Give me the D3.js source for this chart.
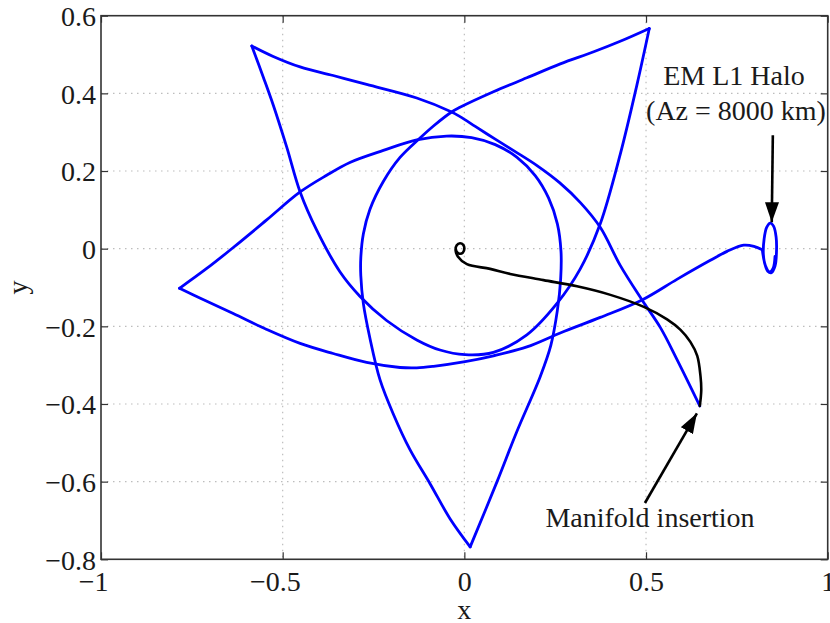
<!DOCTYPE html>
<html>
<head>
<meta charset="utf-8">
<script src="https://cdn.jsdelivr.net/npm/d3@7"></script>
<style>
  html, body { margin: 0; padding: 0; background: #fff; }
  svg { display: block; }
  text { font-family: "Liberation Serif", "Times New Roman", "DejaVu Serif", serif; fill: #1a1a1a; }
</style>
</head>
<body>
<svg id="chart" width="830" height="623"></svg>
<script>
// ---------- data ----------
const xTicks = [-1, -0.5, 0, 0.5, 1];
const yTicks = [-0.8, -0.6, -0.4, -0.2, 0, 0.2, 0.4, 0.6];
const xLabel = "x";
const yLabel = "y";

// blue transfer trajectory, split at cusps (insertion -> UL -> UR -> B -> L -> halo)
const segInsertToUL = [[0.648,-0.405],[0.585,-0.285],[0.540,-0.204],[0.489,-0.132],[0.429,-0.043],[0.374,0.055],[0.320,0.118],[0.262,0.170],[0.200,0.214],[0.140,0.250],[0.085,0.282],[0.030,0.315],[-0.012,0.340],[-0.035,0.352],[-0.131,0.388],[-0.269,0.423],[-0.361,0.446],[-0.452,0.468],[-0.526,0.495],[-0.585,0.522]];
const segULToUR = [[-0.585,0.522],[-0.553,0.441],[-0.526,0.370],[-0.489,0.262],[-0.452,0.146],[-0.406,0.047],[-0.342,-0.060],[-0.287,-0.123],[-0.214,-0.185],[-0.131,-0.235],[-0.067,-0.261],[0.002,-0.273],[0.080,-0.267],[0.172,-0.222],[0.255,-0.141],[0.319,-0.052],[0.374,0.064],[0.429,0.243],[0.475,0.422],[0.509,0.567]];
const segURToB = [[0.509,0.567],[0.429,0.534],[0.356,0.507],[0.264,0.476],[0.172,0.440],[0.080,0.404],[-0.012,0.364],[-0.035,0.352],[-0.085,0.316],[-0.122,0.285],[-0.177,0.235],[-0.223,0.173],[-0.260,0.101],[-0.278,0.038],[-0.285,-0.024],[-0.285,-0.069],[-0.278,-0.141],[-0.260,-0.230],[-0.232,-0.338],[-0.195,-0.427],[-0.150,-0.517],[-0.094,-0.606],[-0.039,-0.696],[0.016,-0.768]];
const segBToL = [[0.016,-0.768],[0.090,-0.600],[0.144,-0.472],[0.209,-0.329],[0.238,-0.249],[0.256,-0.159],[0.265,-0.079],[0.266,-0.007],[0.256,0.064],[0.232,0.130],[0.195,0.188],[0.145,0.235],[0.085,0.268],[0.020,0.286],[-0.049,0.290],[-0.131,0.280],[-0.223,0.253],[-0.315,0.222],[-0.379,0.189],[-0.452,0.146],[-0.544,0.074],[-0.636,0.003],[-0.709,-0.051],[-0.784,-0.102]];
const segLToHalo = [[-0.784,-0.102],[-0.728,-0.127],[-0.636,-0.167],[-0.544,-0.208],[-0.452,-0.244],[-0.361,-0.270],[-0.269,-0.293],[-0.177,-0.306],[-0.131,-0.307],[-0.085,-0.303],[0.002,-0.291],[0.080,-0.276],[0.172,-0.253],[0.264,-0.217],[0.374,-0.177],[0.489,-0.132],[0.585,-0.079],[0.677,-0.030],[0.723,-0.007],[0.769,0.009],[0.797,0.006],[0.820,-0.003]];
const haloOrbit = [[0.820,-0.003],[0.826,-0.035],[0.835,-0.058],[0.845,-0.062],[0.855,-0.045],[0.859,-0.010],[0.858,0.030],[0.851,0.058],[0.842,0.066],[0.832,0.055],[0.825,0.025],[0.823,-0.015],[0.829,-0.045],[0.840,-0.060],[0.850,-0.050],[0.855,-0.020]];

// black manifold arc from insertion point to Earth
const manifoldArc = [[0.648,-0.405],[0.652,-0.365],[0.650,-0.329],[0.641,-0.276],[0.622,-0.240],[0.595,-0.209],[0.558,-0.182],[0.494,-0.150],[0.402,-0.119],[0.310,-0.097],[0.218,-0.081],[0.126,-0.065],[0.071,-0.052],[0.007,-0.040],[-0.018,-0.020],[-0.024,-0.005],[-0.021,0.009],[-0.012,0.014],[-0.003,0.010],[0.000,0.000],[-0.004,-0.010],[-0.013,-0.013],[-0.021,-0.008],[-0.024,0.002]];

// annotations: [tailX, tailY, tipX, tipY]
const haloArrow = [0.849, 0.292, 0.846, 0.068];
const insertionArrow = [0.497, -0.655, 0.640, -0.424];
const haloText = ["EM L1 Halo", "(Az = 8000 km)"];
const insertionText = "Manifold insertion";

// ---------- chart ----------
const svg = d3.select("#chart");
const L = 101, R = 827.7, T = 15.7, B = 559.3;
const x = d3.scaleLinear().domain([-1, 1]).range([L, R]);
const y = d3.scaleLinear().domain([-0.8, 0.6]).range([B, T]);
const fmt = d3.format("");
const FS = 28;
const FONT = '"Liberation Serif", "Times New Roman", serif';

// grid
const grid = svg.append("g");
grid.selectAll(".gx").data(xTicks.slice(1, -1)).join("line")
  .attr("x1", d => x(d)).attr("x2", d => x(d)).attr("y1", T).attr("y2", B)
  .attr("stroke", "#bdbdbd").attr("stroke-width", 1.2).attr("stroke-dasharray", "1.5,4.5");
grid.selectAll(".gy").data(yTicks.slice(1, -1)).join("line")
  .attr("y1", d => y(d)).attr("y2", d => y(d)).attr("x1", L).attr("x2", R)
  .attr("stroke", "#bdbdbd").attr("stroke-width", 1.2).attr("stroke-dasharray", "1.5,4.5");

// axes
const ax = svg.append("g").attr("transform", `translate(0,${B})`)
  .call(d3.axisBottom(x).tickValues(xTicks).tickFormat(fmt).tickSizeInner(-7).tickSizeOuter(0).tickPadding(0));
const ay = svg.append("g").attr("transform", `translate(${L},0)`)
  .call(d3.axisLeft(y).tickValues(yTicks).tickFormat(fmt).tickSizeInner(-7).tickSizeOuter(0).tickPadding(0));
const axT = svg.append("g").attr("transform", `translate(0,${T})`)
  .call(d3.axisTop(x).tickValues(xTicks).tickFormat("").tickSizeInner(-7).tickSizeOuter(0));
const ayR = svg.append("g").attr("transform", `translate(${R},0)`)
  .call(d3.axisRight(y).tickValues(yTicks).tickFormat("").tickSizeInner(-7).tickSizeOuter(0));
[ax, ay, axT, ayR].forEach(g => {
  g.select(".domain").remove();
  g.selectAll("line").attr("stroke", "#333").attr("stroke-width", 1.2);
});
ax.selectAll("text").attr("y", 32).attr("dy", null)
  .style("font-family", FONT).style("font-size", FS + "px").attr("fill", "#1a1a1a");
ay.selectAll("text").attr("x", -5).attr("dy", "0.35em")
  .style("font-family", FONT).style("font-size", FS + "px").attr("fill", "#1a1a1a");

// x tick labels: centre the digits on the tick, minus sign hangs to the left
const measure = svg.append("text").style("font-family", FONT).style("font-size", FS + "px").attr("opacity", 0);
ax.selectAll("text").each(function(d) {
  const full = this.textContent;
  const abs = full.replace("\u2212", "").replace("-", "");
  measure.text(full); const fw = measure.node().getComputedTextLength();
  measure.text(abs); const aw = measure.node().getComputedTextLength();
  d3.select(this).attr("text-anchor", "start").attr("x", -aw / 2 - (fw - aw));
});
measure.remove();

// frame
svg.append("rect").attr("x", L).attr("y", T).attr("width", R - L).attr("height", B - T)
  .attr("fill", "none").attr("stroke", "#333").attr("stroke-width", 1.6);

// axis labels
svg.append("text").attr("x", x(0)).attr("y", 619).attr("text-anchor", "middle")
  .style("font-size", FS + "px").text(xLabel);
svg.append("text").attr("transform", `translate(27,${y(-0.1)}) rotate(-90)`).attr("text-anchor", "middle")
  .style("font-size", FS + "px").text(yLabel);

// lines
const line = d3.line().x(d => x(d[0])).y(d => y(d[1])).curve(d3.curveCatmullRom.alpha(0.5));
const plot = svg.append("g");
[segInsertToUL, segULToUR, segURToB, segBToL, segLToHalo, haloOrbit].forEach(seg => {
  plot.append("path").datum(seg).attr("d", line)
    .attr("fill", "none").attr("stroke", "#0000ff").attr("stroke-width", 2.8)
    .attr("stroke-linejoin", "round").attr("stroke-linecap", "round");
});
plot.append("path").datum(manifoldArc).attr("d", line)
  .attr("fill", "none").attr("stroke", "#000").attr("stroke-width", 2.6)
  .attr("stroke-linejoin", "round").attr("stroke-linecap", "round");

// arrows
svg.append("defs").append("marker").attr("id", "ah")
  .attr("markerUnits", "userSpaceOnUse").attr("viewBox", "0 0 20 14")
  .attr("refX", 20).attr("refY", 7).attr("markerWidth", 20).attr("markerHeight", 14)
  .attr("orient", "auto")
  .append("path").attr("d", "M0,0 L20,7 L0,14 Z").attr("fill", "#000");
[haloArrow, insertionArrow].forEach(a => {
  svg.append("line").attr("x1", x(a[0])).attr("y1", y(a[1])).attr("x2", x(a[2])).attr("y2", y(a[3]))
    .attr("stroke", "#000").attr("stroke-width", 2.6).attr("marker-end", "url(#ah)");
});

// annotation text
svg.append("text").attr("x", 734).attr("y", 85).attr("text-anchor", "middle")
  .style("font-size", FS + "px").text(haloText[0]);
svg.append("text").attr("x", 736).attr("y", 120).attr("text-anchor", "middle")
  .style("font-size", FS + "px").text(haloText[1]);
svg.append("text").attr("x", 650).attr("y", 527).attr("text-anchor", "middle")
  .style("font-size", FS + "px").text(insertionText);
</script>
</body>
</html>
